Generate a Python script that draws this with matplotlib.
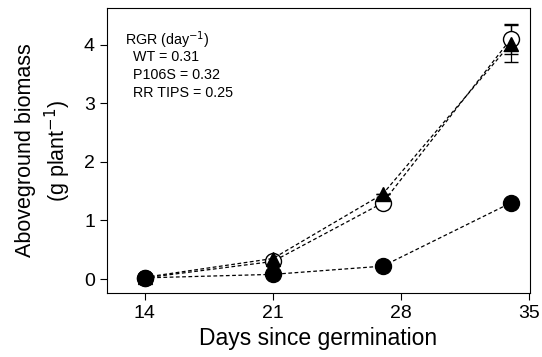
import numpy as np
import matplotlib
matplotlib.use("Agg")
import matplotlib.pyplot as plt

plt.rcParams['font.family'] = ['Liberation Sans', 'DejaVu Sans']

days = [14, 21, 27, 34]
wt = [0.02, 0.30, 1.30, 4.10]
wt_err = [0, 0, 0, 0.26]
p106s = [0.03, 0.35, 1.45, 4.02]
p106s_err = [0, 0, 0, 0.32]
rr_tips = [0.02, 0.08, 0.22, 1.30]
rr_err = [0, 0, 0, 0]

rgr_lines = ["WT = 0.31", "P106S = 0.32", "RR TIPS = 0.25"]

fig = plt.figure(figsize=(5.42, 3.57), dpi=100)
ax = fig.add_axes([0.197, 0.179, 0.781, 0.799])

# open circles underneath, then triangles, then filled circles
ax.errorbar(days, wt, yerr=wt_err, color="black", linestyle="--", linewidth=0.9,
            marker="o", markersize=11.5, markerfacecolor="white", markeredgewidth=1.0,
            capsize=5, dashes=(3, 2))
ax.errorbar(days, p106s, yerr=p106s_err, color="black", linestyle="--", linewidth=0.9,
            marker="^", markersize=10.5, markerfacecolor="black", capsize=5, dashes=(3, 2))
ax.errorbar(days, rr_tips, yerr=rr_err, color="black", linestyle="--", linewidth=0.9,
            marker="o", markersize=11.5, markerfacecolor="black", capsize=5, dashes=(3, 2))

ax.set_xlim([11.93, 35.05])
ax.set_ylim([-0.24, 4.63])
ax.set_xticks([14, 21, 28, 35])
ax.set_yticks([0, 1, 2, 3, 4])
ax.tick_params(labelsize=14, length=5, width=0.8, direction="out")
ax.set_xlabel("Days since germination", fontsize=16.5, labelpad=4)
ax.set_ylabel("Aboveground biomass\n(g plant$^{-1}$)", fontsize=15.5, linespacing=1.3,
              labelpad=8)

ax.text(0.043, 0.888, "RGR (day$^{-1}$)", transform=ax.transAxes, fontsize=10.3,
        va="center")
for i, line in enumerate(rgr_lines):
    ax.text(0.062, 0.826 - 0.0615 * i, line, transform=ax.transAxes, fontsize=10.3,
            va="center")

plt.savefig("out.png", dpi=100)
